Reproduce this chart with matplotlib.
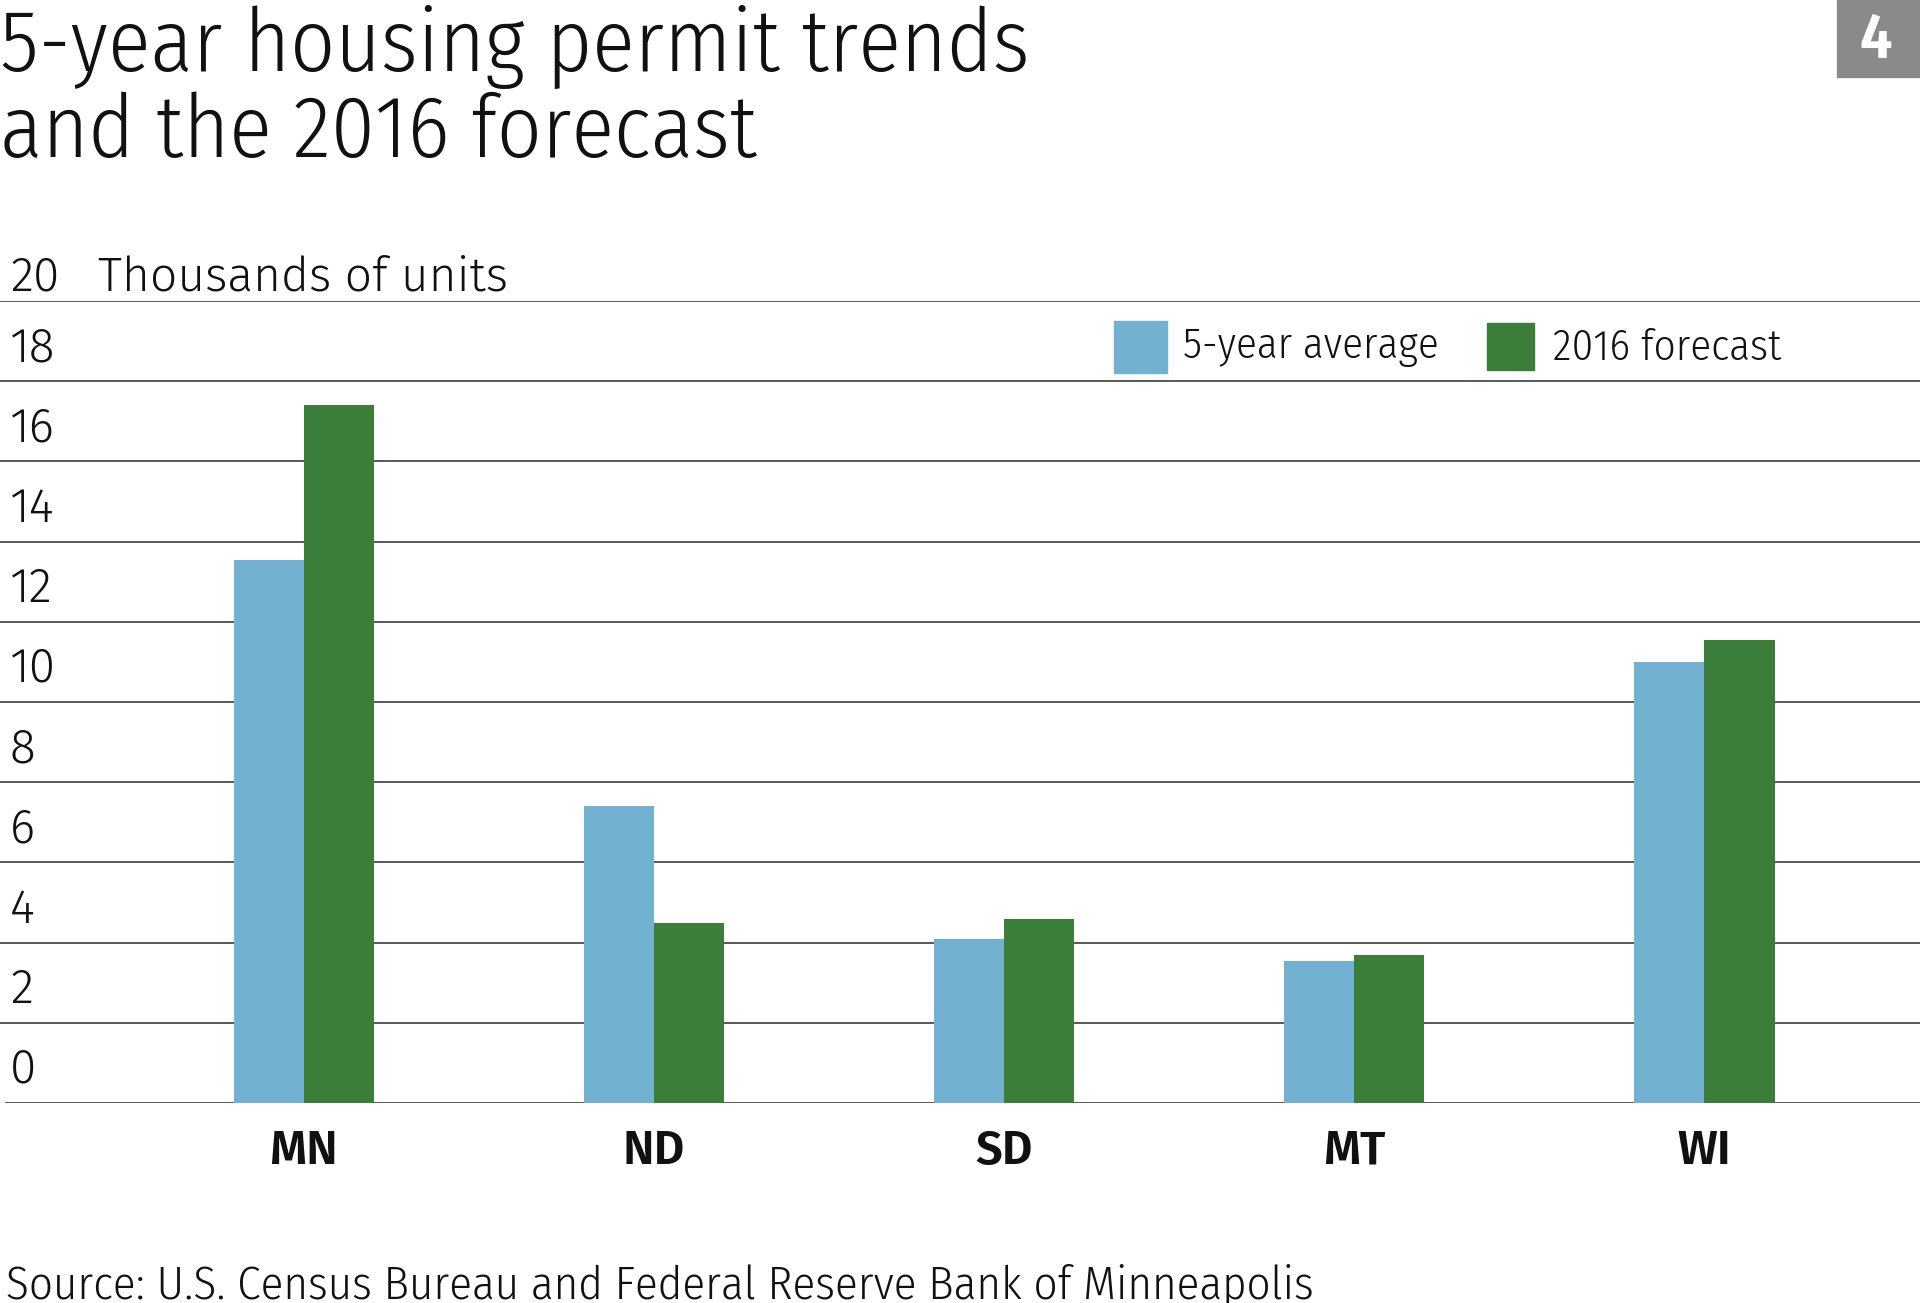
import matplotlib
matplotlib.use("Agg")
import matplotlib.pyplot as plt
import matplotlib.transforms as mtransforms
from matplotlib.patches import Rectangle
import numpy as np

# ---- data ----
states = ["MN", "ND", "SD", "MT", "WI"]
five_year_avg = [13.55, 7.4, 4.1, 3.55, 11.0]
forecast_2016 = [17.4, 4.5, 4.6, 3.7, 11.55]
y_ticks = [0, 2, 4, 6, 8, 10, 12, 14, 16, 18, 20]
series_names = ["5-year average", "2016 forecast"]
title_lines = ["5-year housing permit trends", "and the 2016 forecast"]
unit_label = "Thousands of units"
source_text = "Source: U.S. Census Bureau and Federal Reserve Bank of Minneapolis"
badge = "4"

# ---- style ----
FONT_C = "Fira Sans Condensed"
FONT = "Fira Sans"
BLUE = "#72b1d0"
GREEN = "#3b7e39"
GRID = "#4a4a4a"
INK = "#111111"
W, H = 1920, 1303

fig = plt.figure(figsize=(W / 100, H / 100), dpi=100)
fig.patch.set_facecolor("white")

ax_bottom = 1 - 1103 / H
ax_top = 1 - 301 / H
ax = fig.add_axes([0, ax_bottom, 1, ax_top - ax_bottom])
ax.set_ylim(0, 20)
ppu = 350.2
ax.set_xlim(-303.7 / ppu, (W - 303.7) / ppu)
for s in ax.spines.values():
    s.set_visible(False)
ax.set_xticks([])
ax.set_yticks([])
ax.patch.set_alpha(0)

# gridlines
for v in y_ticks:
    xmin = 6 / W if v == 0 else 0
    ax.axhline(v, xmin=xmin, xmax=1, color=GRID, lw=1.3, zorder=1)

x = np.arange(len(states))
bw = 0.2
ax.bar(x - bw / 2, five_year_avg, width=bw, color=BLUE, zorder=3, linewidth=0)
ax.bar(x + bw / 2, forecast_2016, width=bw, color=GREEN, zorder=3, linewidth=0)

# y tick labels (above each gridline, at the left)
trans = mtransforms.blended_transform_factory(ax.transAxes, ax.transData)
for v in y_ticks:
    off = 0.25 if v == 20 else 0.5
    ax.text(10 / W, v + off, str(v), transform=trans, ha="left", va="baseline",
            fontsize=34.5, family=FONT, weight=300, color=INK, clip_on=False)
ax.text(98 / W, 20 + 0.25, unit_label, transform=trans, ha="left", va="baseline",
        fontsize=34.5, family=FONT, weight=300, color=INK, clip_on=False)

# category labels
for xi, st in zip(x, states):
    ax.text(xi, -1.2, st, ha="center", va="center", fontsize=34, family=FONT,
            weight=600, color=INK, clip_on=False)

# legend (manual)
def fx(px):
    return px / W

def fy(py):
    return 1 - py / H

fig.patches.append(Rectangle((fx(1114), fy(373)), fx(1167) - fx(1114), fy(321) - fy(373),
                             transform=fig.transFigure, color=BLUE, zorder=5))
fig.patches.append(Rectangle((fx(1487), fy(370)), fx(1534) - fx(1487), fy(323) - fy(370),
                             transform=fig.transFigure, color=GREEN, zorder=5))
fig.text(fx(1183), fy(358), series_names[0], ha="left", va="baseline", fontsize=31,
         family=FONT_C, weight=300, color=INK)
fig.text(fx(1553), fy(360), series_names[1], ha="left", va="baseline", fontsize=31,
         family=FONT_C, weight=300, color=INK)

# title
fig.text(0, fy(71), title_lines[0], ha="left", va="baseline", fontsize=63,
         family=FONT_C, weight=300, color=INK)
fig.text(0, fy(157), title_lines[1], ha="left", va="baseline", fontsize=63,
         family=FONT_C, weight=300, color=INK)

# badge
fig.patches.append(Rectangle((fx(1837), fy(77)), fx(W) - fx(1837), fy(0) - fy(77),
                             transform=fig.transFigure, color="#8a8a8a", zorder=5))
fig.text(fx(1876), fy(41), badge, ha="center", va="center", fontsize=46,
         family=FONT_C, weight=600, color="white", zorder=6)

# source
fig.text(fx(6), fy(1298), source_text, ha="left", va="baseline", fontsize=33.8,
         family=FONT_C, weight=300, color=INK)

fig.savefig("out.png", dpi=100, facecolor="white")
